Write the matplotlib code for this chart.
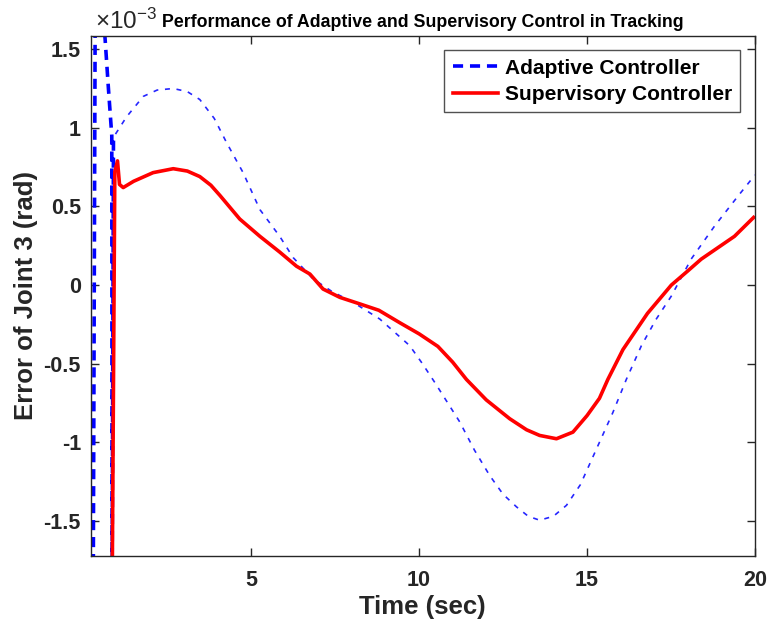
import numpy as np
import matplotlib
matplotlib.use('Agg')
import matplotlib.pyplot as plt
from matplotlib.lines import Line2D

plt.rcParams['font.family'] = ['Liberation Sans', 'DejaVu Sans']
plt.rcParams['mathtext.fontset'] = 'custom'
plt.rcParams['mathtext.rm'] = 'Liberation Sans'
plt.rcParams['mathtext.it'] = 'Liberation Sans:italic'
plt.rcParams['mathtext.bf'] = 'Liberation Sans:bold'

# Adaptive controller: start-up transient (values in 1e-3 rad)
t_ad_start = [0.22, 0.30, 0.36, 0.45, 0.55, 0.64, 0.75, 0.85, 0.86, 0.90, 0.96]
e_ad_start = [-6.0, -1.8, 2.0, 3.0, 2.2, 1.6, 1.25, 0.95, -1.9, 0.92, 0.96]
# Adaptive controller: smooth part
t_ad = [0.96, 1.29, 1.79, 2.2, 2.68, 3.1, 3.47, 3.9, 4.27, 4.76, 5.26, 5.85, 6.25, 6.84,
        7.4, 8.04, 8.83, 9.72, 10.1, 10.47, 11.21, 11.65, 12.1, 12.5, 12.9, 13.25,
        13.59, 14.0, 14.39, 14.8, 15.18, 15.77, 16.17, 16.62, 17.05, 17.51, 18.1,
        18.8, 19.5, 20.0]
e_ad = [0.96, 1.07, 1.2, 1.24, 1.25, 1.23, 1.18, 1.06, 0.905, 0.715, 0.48, 0.31, 0.175,
        0.04, -0.04, -0.11, -0.216, -0.385, -0.5, -0.62, -0.87, -1.05, -1.21, -1.33,
        -1.41, -1.47, -1.495, -1.47, -1.4, -1.27, -1.09, -0.81, -0.6, -0.385, -0.22,
        -0.07, 0.165, 0.376, 0.567, 0.70]

# Supervisory controller
t_sup = [0.845, 0.94, 1.02, 1.08, 1.19, 1.5, 2.08, 2.68, 3.1, 3.47, 3.8, 4.07, 4.66,
         5.26, 5.85, 6.35, 6.75, 7.14, 7.64, 8.24, 8.8, 9.43, 10.0, 10.56, 11.0,
         11.41, 12.0, 12.7, 13.2, 13.59, 14.09, 14.58, 15.0, 15.37, 15.62, 16.07,
         16.8, 17.51, 18.0, 18.4, 19.39, 19.96]
e_sup = [-2.5, 0.72, 0.79, 0.64, 0.62, 0.66, 0.715, 0.74, 0.725, 0.69, 0.635, 0.57,
         0.42, 0.31, 0.21, 0.12, 0.07, -0.025, -0.078, -0.12, -0.16, -0.24, -0.31,
         -0.39, -0.49, -0.6, -0.73, -0.85, -0.92, -0.956, -0.977, -0.935, -0.83,
         -0.72, -0.6, -0.41, -0.18, 0.0, 0.09, 0.165, 0.31, 0.43]

y_ticks = [-1.5, -1, -0.5, 0, 0.5, 1, 1.5]
y_ticklabels = ['-1.5', '-1', '-0.5', '0', '0.5', '1', '1.5']
x_ticks = [5, 10, 15, 20]

scale = 1e-3
dark = '#262626'
fig = plt.figure(figsize=(7.68, 6.31), dpi=100)
ax = fig.add_axes([0.118, 0.119, 0.865, 0.824])

ax.plot(t_ad_start, np.array(e_ad_start) * scale, color='#0000ff', lw=2.6,
        dashes=(2.8, 1.9))
ax.plot(t_ad, np.array(e_ad) * scale, color='#0000ff', lw=1.2, dashes=(3, 4), alpha=0.85)
ax.plot(t_sup, np.array(e_sup) * scale, color='#ff0000', lw=2.6)

ax.set_xlim(0.22, 20)
ax.set_ylim(-1.722e-3, 1.584e-3)
ax.set_xticks(x_ticks)
ax.set_xticklabels([str(v) for v in x_ticks])
ax.set_yticks(np.array(y_ticks) * scale)
ax.set_yticklabels(y_ticklabels)

ax.tick_params(direction='in', length=6, width=1, top=True, right=True,
               labelsize=15.5, colors=dark)
ax.tick_params(axis='x', pad=10)
ax.tick_params(axis='y', pad=7)
for lbl in ax.get_xticklabels() + ax.get_yticklabels():
    lbl.set_fontweight('bold')
for sp in ax.spines.values():
    sp.set_color(dark)
    sp.set_linewidth(1.0)

ax.set_xlabel('Time (sec)', fontsize=18.5, fontweight='bold', color=dark, labelpad=3)
ax.set_ylabel('Error of Joint 3 (rad)', fontsize=18.5, fontweight='bold', color=dark,
              labelpad=4)
ax.set_title('Performance of Adaptive and Supervisory Control in Tracking',
             fontsize=12.8, fontweight='bold', color='black', pad=6.5, x=0.5)

# exponent label as drawn by MATLAB
ax.text(0.006, 1.0142, r'$\times10^{-3}$', transform=ax.transAxes, fontsize=17.5,
        color=dark, ha='left', va='baseline')

handles = [Line2D([], [], color='#0000ff', lw=2.6, dashes=(2.8, 1.9)),
           Line2D([], [], color='#ff0000', lw=2.6)]
leg = ax.legend(handles, ['Adaptive Controller', 'Supervisory Controller'],
                loc='upper right', bbox_to_anchor=(0.978, 0.9725),
                prop={'weight': 'bold', 'size': 15}, frameon=True, fancybox=False,
                edgecolor=dark, handlelength=2.2, handletextpad=0.3,
                borderpad=0.4, labelspacing=0.35, borderaxespad=0)
leg.get_frame().set_linewidth(1.0)

fig.savefig('out.png', dpi=100)
